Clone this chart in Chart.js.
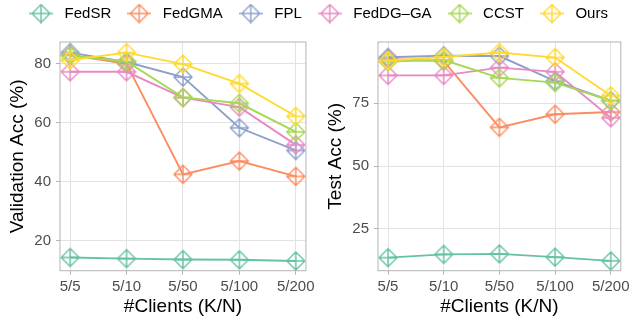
<!DOCTYPE html>
<html>
<head>
<meta charset="utf-8">
<script src="https://cdn.jsdelivr.net/npm/chart.js@4.4.1/dist/chart.umd.min.js"></script>
<style>
  body { margin: 0; background: #fff; width: 633px; height: 322px; position: relative; overflow: hidden; }
  #legendBox { position: absolute; left: 0; top: -6px; width: 633px; height: 44px; z-index: 2; }
  #leftBox { position: absolute; left: 0; top: 28px; width: 318px; height: 294px; }
  #rightBox { position: absolute; left: 318px; top: 28px; width: 315px; height: 294px; }
</style>
</head>
<body>
<div id="legendBox"><canvas id="legend"></canvas></div>
<div id="leftBox"><canvas id="valChart"></canvas></div>
<div id="rightBox"><canvas id="testChart"></canvas></div>
<script>
var clients = ['5/5', '5/10', '5/50', '5/100', '5/200'];
var methods = ['FedSR', 'FedGMA', 'FPL', 'FedDG\u2013GA', 'CCST', 'Ours'];
var colors = ['#66c2a5', '#fc8d62', '#8da0cb', '#e78ac3', '#a6d854', '#ffd92f'];

// validation accuracy (%)
var valFedSR   = [14.3, 13.9, 13.6, 13.5, 13.1];
var valFedGMA  = [83.0, 80.0, 42.5, 47.0, 41.8];
var valFPL     = [83.8, 80.6, 75.5, 58.3, 50.6];
var valFedDGGA = [77.3, 77.3, 68.5, 65.3, 52.5];
var valCCST    = [82.8, 80.8, 68.6, 66.6, 56.9];
var valOurs    = [81.3, 83.8, 79.9, 73.3, 62.2];

// test accuracy (%)
var testFedSR   = [13.5, 14.8, 15.0, 13.7, 12.2];
var testFedGMA  = [92.6, 91.8, 65.4, 70.6, 71.5];
var testFPL     = [93.3, 93.9, 93.8, 83.8, 76.0];
var testFedDGGA = [86.1, 86.1, 89.2, 87.5, 69.2];
var testCCST    = [91.6, 92.2, 85.1, 83.2, 76.0];
var testOurs    = [92.0, 93.4, 95.2, 93.2, 78.0];

var valTicks = [20, 40, 60, 80];
var testTicks = [25, 50, 75];

var valData = [valFedSR, valFedGMA, valFPL, valFedDGGA, valCCST, valOurs];
var testData = [testFedSR, testFedGMA, testFPL, testFedDGGA, testCCST, testOurs];

// diamond with a plus inside (ggplot shape 9)
function markerImg(color, w, h, withLine) {
  var c = document.createElement('canvas');
  c.width = w; c.height = h;
  var g = c.getContext('2d');
  var cx = w / 2, cy = h / 2, r = 9;
  g.strokeStyle = color;
  g.lineWidth = 1.4;
  g.beginPath();
  if (withLine) { g.moveTo(0, cy); g.lineTo(w, cy); }
  g.moveTo(cx - r, cy); g.lineTo(cx + r, cy);
  g.moveTo(cx, cy - r); g.lineTo(cx, cy + r);
  g.moveTo(cx, cy - r); g.lineTo(cx + r, cy); g.lineTo(cx, cy + r); g.lineTo(cx - r, cy); g.closePath();
  g.stroke();
  return c;
}

var panelBorder = {
  id: 'panelBorder',
  afterDraw: function (chart) {
    var a = chart.chartArea, ctx = chart.ctx;
    ctx.save();
    ctx.strokeStyle = '#b3b3b3';
    ctx.lineWidth = 1;
    ctx.strokeRect(a.left, a.top, a.right - a.left, a.bottom - a.top);
    ctx.restore();
  }
};

function makeDatasets(series) {
  return series.map(function (vals, i) {
    return {
      label: methods[i],
      data: vals.map(function (v, j) { return { x: j, y: v }; }),
      borderColor: colors[i],
      backgroundColor: colors[i],
      borderWidth: 1.9,
      pointStyle: markerImg(colors[i], 22, 22, false),
      pointRadius: 9,
      order: series.length - i
    };
  });
}

function makeChart(el, series, yTitle, ymin, ymax, yTicks, padRight) {
  return new Chart(document.getElementById(el), {
    type: 'line',
    data: { datasets: makeDatasets(series) },
    options: {
      responsive: true,
      maintainAspectRatio: false,
      animation: false,
      layout: { padding: { top: 8.7, right: padRight, left: 0, bottom: 0 } },
      scales: {
        x: {
          type: 'linear',
          min: -0.18,
          max: 4.18,
          afterBuildTicks: function (axis) {
            axis.ticks = clients.map(function (c, i) { return { value: i }; });
          },
          afterFit: function (axis) { axis.height = 51.3; },
          ticks: {
            callback: function (v) { return clients[v]; },
            color: '#4d4d4d',
            font: { family: 'Liberation Sans', size: 15 },
            padding: 3,
            maxRotation: 0,
            autoSkip: false
          },
          grid: { color: '#e3e3e3', tickColor: '#b3b3b3', tickLength: 4 },
          border: { display: false },
          title: {
            display: true,
            text: '#Clients (K/N)',
            color: '#000',
            font: { family: 'Liberation Sans', size: 19 },
            padding: { top: 0, bottom: 4 }
          }
        },
        y: {
          min: ymin,
          max: ymax,
          afterBuildTicks: function (axis) {
            axis.ticks = yTicks.map(function (v) { return { value: v }; });
          },
          afterFit: function (axis) { axis.width = 60; },
          ticks: {
            color: '#4d4d4d',
            font: { family: 'Liberation Sans', size: 15 },
            padding: 5
          },
          grid: { color: '#e3e3e3', tickColor: '#b3b3b3', tickLength: 4 },
          border: { display: false },
          title: {
            display: true,
            text: yTitle,
            color: '#000',
            font: { family: 'Liberation Sans', size: 19 },
            padding: { top: 6, bottom: 0 }
          }
        }
      },
      plugins: {
        legend: { display: false },
        tooltip: { enabled: false }
      }
    },
    plugins: [panelBorder]
  });
}

var valChart = makeChart('valChart', valData, 'Validation Acc (%)', 9.8, 87.4, valTicks, 10);
var testChart = makeChart('testChart', testData, 'Test Acc (%)', 8.3, 99.4, testTicks, 7);

var legendChart = new Chart(document.getElementById('legend'), {
  type: 'line',
  data: {
    datasets: methods.map(function (m, i) {
      return {
        label: m,
        data: [],
        borderColor: colors[i],
        pointStyle: markerImg(colors[i], 24, 20, true)
      };
    })
  },
  options: {
    responsive: true,
    maintainAspectRatio: false,
    animation: false,
    layout: { padding: 0 },
    scales: { x: { display: false }, y: { display: false } },
    plugins: {
      tooltip: { enabled: false },
      legend: {
        display: true,
        position: 'top',
        maxHeight: 44,
        labels: {
          usePointStyle: true,
          pointStyleWidth: 32,
          color: '#000',
          font: { family: 'Liberation Sans', size: 15 },
          padding: 12
        }
      }
    }
  }
});
</script>
</body>
</html>
